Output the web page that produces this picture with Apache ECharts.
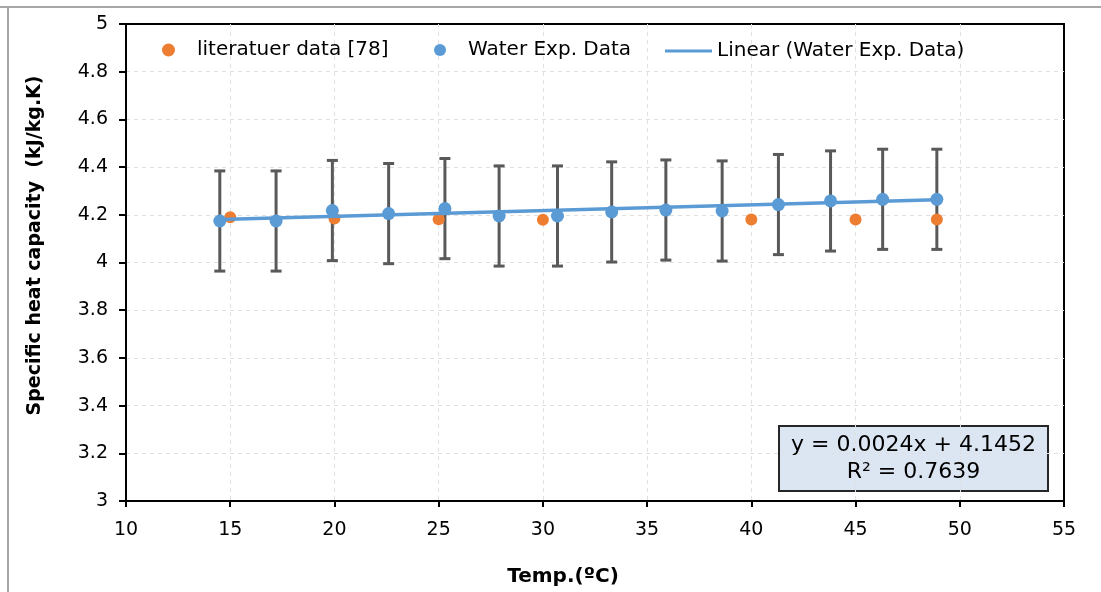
<!DOCTYPE html>
<html>
<head>
<meta charset="utf-8">
<script src="https://cdn.jsdelivr.net/npm/echarts@6/dist/echarts.min.js"></script>
<style>
html,body{margin:0;padding:0;background:#fff;}
#chart{width:1101px;height:592px;}
</style>
</head>
<body>
<div id="chart"></div>
<script>
// ---- data ----
const litName = 'literatuer data [78]';
const expName = 'Water Exp. Data';
const fitName = 'Linear (Water Exp. Data)';

const litX = [15, 20, 25, 30, 40, 45, 48.9];
const litY = [4.19, 4.184, 4.181, 4.179, 4.18, 4.18, 4.18];

const expX = [14.5, 17.2, 19.9, 22.6, 25.3, 27.9, 30.7, 33.3, 35.9, 38.6, 41.3, 43.8, 46.3, 48.9];
const expY = [4.174, 4.174, 4.218, 4.205, 4.226, 4.195, 4.195, 4.212, 4.220, 4.216, 4.243, 4.258, 4.265, 4.265];
const expErr = [0.21, 0.21, 0.21, 0.21, 0.21, 0.21, 0.21, 0.21, 0.21, 0.21, 0.21, 0.21, 0.21, 0.21];

const fitX = [14.5, 48.9];
const fitY = [4.180, 4.263];

const equationText = 'y = 0.0024x + 4.1452';
const r2Text = 'R² = 0.7639';

const xTitle = 'Temp.(ºC)';
const yTitle = 'Specific heat capacity  (kJ/kg.K)';

// ---- chart ----
const FONT = 'DejaVu Sans';
const chart = echarts.init(document.getElementById('chart'), null, {renderer: 'canvas'});

const litData = litX.map((x, i) => [x, litY[i]]);
const expData = expX.map((x, i) => [x, expY[i]]);
const errData = expX.map((x, i) => [x, expY[i] - expErr[i], expY[i] + expErr[i]]);
const fitData = fitX.map((x, i) => [x, fitY[i]]);

const legendBase = {
  top: 40,
  padding: 0,
  itemGap: 0,
  textStyle: {fontFamily: FONT, fontSize: 20, color: '#000'}
};

chart.setOption({
  animation: false,
  backgroundColor: '#fff',
  grid: {
    left: 126, right: 37, top: 24, bottom: 91,
    show: true, borderColor: '#000', borderWidth: 2
  },
  legend: [
    Object.assign({}, legendBase, {
      left: 162, data: [{name: litName, icon: 'circle'}],
      itemWidth: 13, itemHeight: 13,
      textStyle: Object.assign({}, legendBase.textStyle, {padding: [0, 0, 0, 17]})
    }),
    Object.assign({}, legendBase, {
      left: 434, data: [{name: expName, icon: 'circle'}],
      itemWidth: 12, itemHeight: 12,
      textStyle: Object.assign({}, legendBase.textStyle, {padding: [0, 0, 0, 17]})
    }),
    Object.assign({}, legendBase, {
      left: 665, data: [{name: fitName, icon: 'rect'}],
      itemWidth: 47, itemHeight: 3,
      top: 41
    })
  ],
  xAxis: {
    type: 'value', min: 10, max: 55, interval: 5,
    name: xTitle, nameLocation: 'middle', nameGap: 66,
    nameTextStyle: {fontFamily: FONT, fontSize: 20, fontWeight: 'bold', color: '#000', padding: [0, 64, 0, 0]},
    axisLine: {show: true, onZero: false, lineStyle: {color: '#000', width: 2}},
    axisTick: {show: true, length: 6, lineStyle: {color: '#000', width: 2}},
    axisLabel: {fontFamily: FONT, fontSize: 19, color: '#000', margin: 20},
    splitLine: {show: true, showMinLine: false, showMaxLine: false,
      lineStyle: {color: '#e0e0e0', type: [4, 4], width: 1}}
  },
  yAxis: {
    type: 'value', min: 3, max: 5, interval: 0.2,
    name: yTitle, nameLocation: 'middle', nameGap: 81,
    nameTextStyle: {fontFamily: FONT, fontSize: 19, fontWeight: 'bold', color: '#000', padding: [0, 0, 0, 34]},
    axisLine: {show: true, onZero: false, lineStyle: {color: '#000', width: 2}},
    axisTick: {show: true, length: 7, lineStyle: {color: '#000', width: 2}},
    axisLabel: {fontFamily: FONT, fontSize: 19, color: '#000', margin: 18},
    splitLine: {show: true, showMinLine: false, showMaxLine: false,
      lineStyle: {color: '#e0e0e0', type: [4, 4], width: 1}}
  },
  series: [
    {
      name: 'errorbars', type: 'custom', z: 1, silent: true,
      data: errData,
      encode: {x: 0, y: [1, 2]},
      renderItem: function (params, api) {
        const x = api.value(0);
        const lo = api.coord([x, api.value(1)]);
        const hi = api.coord([x, api.value(2)]);
        const cap = 5.5;
        const style = {stroke: '#595959', lineWidth: 3};
        return {
          type: 'group',
          children: [
            {type: 'line', shape: {x1: lo[0], y1: lo[1], x2: hi[0], y2: hi[1]}, style: style},
            {type: 'line', shape: {x1: lo[0] - cap, y1: lo[1], x2: lo[0] + cap, y2: lo[1]}, style: style},
            {type: 'line', shape: {x1: hi[0] - cap, y1: hi[1], x2: hi[0] + cap, y2: hi[1]}, style: style}
          ]
        };
      }
    },
    {
      name: litName, type: 'scatter', z: 2,
      data: litData, symbol: 'circle', symbolSize: 12,
      itemStyle: {color: '#ed7d31', opacity: 1}
    },
    {
      name: fitName, type: 'line', z: 3,
      data: fitData, symbol: 'none', showSymbol: false,
      lineStyle: {color: '#5b9bd5', width: 3.5},
      itemStyle: {color: '#5b9bd5'}
    },
    {
      name: expName, type: 'scatter', z: 4,
      data: expData, symbol: 'circle', symbolSize: 13,
      itemStyle: {color: '#5b9bd5', opacity: 1}
    }
  ],
  graphic: [
    {type: 'line', shape: {x1: 0, y1: 7, x2: 1101, y2: 7}, style: {stroke: '#a6a6a6', lineWidth: 2}, z: 10},
    {type: 'line', shape: {x1: 8, y1: 6, x2: 8, y2: 592}, style: {stroke: '#a6a6a6', lineWidth: 2}, z: 10},
    {
      type: 'group', left: 778, top: 425, z: 20,
      children: [
        {type: 'rect', shape: {x: 0, y: 0, width: 269, height: 65},
         style: {fill: '#dce6f2', stroke: '#262626', lineWidth: 2}},
        {type: 'text', x: 134.5, y: 19,
         style: {text: equationText, fontFamily: FONT, fontSize: 22, fill: '#000', align: 'center', verticalAlign: 'middle'}},
        {type: 'text', x: 134.5, y: 46,
         style: {text: r2Text, fontFamily: FONT, fontSize: 22, fill: '#000', align: 'center', verticalAlign: 'middle'}}
      ]
    }
  ]
});
</script>
</body>
</html>
